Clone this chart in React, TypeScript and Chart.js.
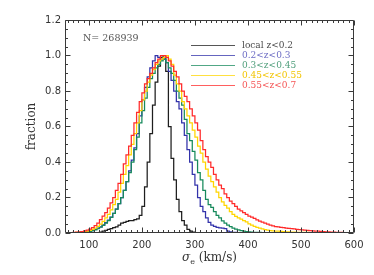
import React, { useEffect, useRef } from "react";
import { Chart, registerables } from "chart.js";

Chart.register(...registerables);

// bin centres (km/s), 5 km/s bins
const binCenters = [
  62.5, 67.5, 72.5, 77.5, 82.5, 87.5, 92.5, 97.5, 102.5, 107.5,
  112.5, 117.5, 122.5, 127.5, 132.5, 137.5, 142.5, 147.5, 152.5, 157.5,
  162.5, 167.5, 172.5, 177.5, 182.5, 187.5, 192.5, 197.5, 202.5, 207.5,
  212.5, 217.5, 222.5, 227.5, 232.5, 237.5, 242.5, 247.5, 252.5, 257.5,
  262.5, 267.5, 272.5, 277.5, 282.5, 287.5, 292.5, 297.5, 302.5, 307.5,
  312.5, 317.5, 322.5, 327.5, 332.5, 337.5, 342.5, 347.5, 352.5, 357.5,
  362.5, 367.5, 372.5, 377.5, 382.5, 387.5, 392.5, 397.5, 402.5, 407.5,
  412.5, 417.5, 422.5, 427.5, 432.5, 437.5, 442.5, 447.5, 452.5, 457.5,
  462.5, 467.5, 472.5, 477.5, 482.5, 487.5, 492.5, 497.5, 502.5, 507.5,
  512.5, 517.5, 522.5, 527.5, 532.5, 537.5, 542.5, 547.5, 552.5, 557.5,
  562.5, 567.5, 572.5, 577.5, 582.5, 587.5, 592.5, 597.5,
];

const localZ = [
  0, 0, 0, 0, 0, 0, 0, 0, 0, 0,
  0, 0.002, 0.005, 0.01, 0.015, 0.02, 0.025, 0.03, 0.035, 0.045,
  0.055, 0.06, 0.065, 0.07, 0.07, 0.075, 0.08, 0.1, 0.15, 0.26,
  0.4, 0.56, 0.72, 0.85, 0.94, 0.99, 1.0, 0.91, 0.6, 0.42,
  0.3, 0.19, 0.12, 0.07, 0.045, 0.02, 0.01, 0.005, 0.002, 0,
  0, 0, 0, 0, 0, 0, 0, 0, 0, 0,
  0, 0, 0, 0, 0, 0, 0, 0, 0, 0,
  0, 0, 0, 0, 0, 0, 0, 0, 0, 0,
  0, 0, 0, 0, 0, 0, 0, 0, 0, 0,
  0, 0, 0, 0, 0, 0, 0, 0, 0, 0,
  0, 0, 0, 0, 0, 0, 0, 0,
];

const z02to03 = [
  0, 0, 0, 0.001, 0.002, 0.003, 0.005, 0.007, 0.01, 0.014,
  0.02, 0.027, 0.035, 0.046, 0.058, 0.073, 0.09, 0.11, 0.135, 0.165,
  0.2, 0.24, 0.29, 0.35, 0.41, 0.48, 0.56, 0.66, 0.75, 0.82,
  0.88, 0.93, 0.97, 1.0, 0.99, 0.98, 0.98, 0.96, 0.91, 0.86,
  0.8, 0.74, 0.7, 0.62, 0.55, 0.47, 0.4, 0.33, 0.27, 0.2,
  0.15, 0.12, 0.085, 0.06, 0.045, 0.037, 0.032, 0.029, 0.027, 0.025,
  0.01, 0.006, 0.004, 0.003, 0.002, 0.002, 0.001, 0.001, 0.001, 0.001,
  0.001, 0.001, 0.001, 0, 0, 0, 0, 0, 0, 0,
  0, 0, 0, 0, 0, 0, 0, 0, 0, 0,
  0, 0, 0, 0, 0, 0, 0, 0, 0, 0,
  0, 0, 0, 0, 0, 0, 0, 0,
];

const z03to045 = [
  0, 0, 0, 0, 0.001, 0.002, 0.004, 0.006, 0.009, 0.013,
  0.018, 0.025, 0.033, 0.043, 0.055, 0.07, 0.088, 0.11, 0.135, 0.165,
  0.2, 0.24, 0.29, 0.34, 0.4, 0.47, 0.54, 0.62, 0.69, 0.76,
  0.82, 0.87, 0.9, 0.93, 0.95, 0.97, 0.98, 0.96, 0.93, 0.9,
  0.86, 0.8, 0.76, 0.72, 0.64, 0.56, 0.52, 0.46, 0.41, 0.34,
  0.3, 0.24, 0.19, 0.16, 0.145, 0.12, 0.1, 0.085, 0.068, 0.055,
  0.045, 0.036, 0.028, 0.022, 0.017, 0.013, 0.01, 0.008, 0.006, 0.005,
  0.004, 0.003, 0.003, 0.002, 0.002, 0.001, 0.001, 0.001, 0.001, 0.001,
  0, 0, 0, 0, 0, 0, 0, 0, 0, 0,
  0, 0, 0, 0, 0, 0, 0, 0, 0, 0,
  0, 0, 0, 0, 0, 0, 0, 0,
];

const z045to055 = [
  0, 0, 0.001, 0.003, 0.004, 0.006, 0.008, 0.011, 0.015, 0.02,
  0.028, 0.038, 0.05, 0.065, 0.085, 0.105, 0.13, 0.16, 0.19, 0.23,
  0.28, 0.33, 0.38, 0.44, 0.5, 0.56, 0.62, 0.69, 0.75, 0.8,
  0.85, 0.89, 0.92, 0.95, 0.97, 0.98, 0.99, 1.0, 0.98, 0.95,
  0.89, 0.84, 0.8, 0.74, 0.7, 0.66, 0.62, 0.58, 0.54, 0.49,
  0.45, 0.4, 0.36, 0.32, 0.29, 0.26, 0.23, 0.2, 0.175, 0.155,
  0.14, 0.12, 0.105, 0.093, 0.085, 0.078, 0.07, 0.062, 0.052, 0.045,
  0.038, 0.032, 0.027, 0.023, 0.019, 0.016, 0.014, 0.012, 0.011, 0.01,
  0.009, 0.008, 0.007, 0.006, 0.005, 0.005, 0.004, 0.004, 0.003, 0.003,
  0.003, 0.002, 0.002, 0.002, 0.002, 0.001, 0.001, 0.001, 0.001, 0,
  0, 0, 0, 0, 0, 0, 0, 0,
];

const z055to07 = [
  0, 0.001, 0.003, 0.005, 0.006, 0.008, 0.012, 0.016, 0.022, 0.03,
  0.042, 0.055, 0.075, 0.095, 0.115, 0.14, 0.17, 0.2, 0.24, 0.28,
  0.33, 0.39, 0.44, 0.49, 0.55, 0.62, 0.68, 0.74, 0.79, 0.84,
  0.87, 0.9, 0.93, 0.96, 0.98, 1.0, 1.0, 0.99, 0.97, 0.94,
  0.91, 0.88, 0.84, 0.8, 0.77, 0.74, 0.7, 0.66, 0.62, 0.58,
  0.52, 0.47, 0.43, 0.4, 0.37, 0.33, 0.3, 0.27, 0.25, 0.22,
  0.2, 0.18, 0.165, 0.15, 0.135, 0.125, 0.115, 0.105, 0.095, 0.09,
  0.082, 0.074, 0.067, 0.061, 0.055, 0.05, 0.045, 0.04, 0.036, 0.034,
  0.032, 0.03, 0.028, 0.026, 0.024, 0.023, 0.021, 0.019, 0.018, 0.016,
  0.015, 0.013, 0.012, 0.011, 0.01, 0.009, 0.008, 0.007, 0.006, 0.005,
  0.005, 0.004, 0.003, 0.003, 0.002, 0.002, 0.001, 0.001,
];

const seriesLabels = ["local z<0.2", "0.2<z<0.3", "0.3<z<0.45", "0.45<z<0.55", "0.55<z<0.7"];
const seriesColors = ["#1e1e1e", "#3232aa", "#178a5c", "#ffd500", "#ff2a2a"];
const legendTextColors = ["#4a4a4a", "#6c6cc4", "#4f9e7b", "#f2c400", "#f55454"];
const xTickValues = [100, 200, 300, 400, 500, 600];
const yTickValues = [0, 0.2, 0.4, 0.6, 0.8, 1.0, 1.2];
const sampleNote = "N= 268939";

const W = 374;
const H = 275;
const PLOT_LEFT = 65;
const PLOT_RIGHT = 354;
const PLOT_TOP = 20;
const PLOT_BOTTOM = 233;

const SERIF = '"DejaVu Serif", serif';
const SANS = '"DejaVu Sans", sans-serif';

const decorPlugin = {
  id: "decor",
  afterDraw(chart: any) {
    const ctx = chart.ctx as CanvasRenderingContext2D;
    const a = chart.chartArea;
    const xs = chart.scales.x;
    const ys = chart.scales.y;
    ctx.save();
    // frame
    ctx.strokeStyle = "#3a3a3a";
    ctx.lineWidth = 1;
    const L = Math.round(a.left) + 0.5;
    const R = Math.round(a.right) - 0.5;
    const T = Math.round(a.top) + 0.5;
    const B = Math.round(a.bottom) - 0.5;
    ctx.beginPath();
    ctx.rect(L, T, R - L, B - T);
    ctx.stroke();

    ctx.beginPath();
    // x ticks (major + minor every 10)
    for (let v = 60; v <= 600; v += 10) {
      const major = v % 100 === 0;
      const len = major ? 5 : 2.5;
      const px = Math.round(xs.getPixelForValue(v)) + 0.5;
      ctx.moveTo(px, B);
      ctx.lineTo(px, B - len);
      ctx.moveTo(px, T);
      ctx.lineTo(px, T + len);
    }
    // y ticks (major 0.2, minor 0.05)
    for (let k = 0; k <= 24; k++) {
      const v = k * 0.05;
      const major = k % 4 === 0;
      const len = major ? 5 : 2.5;
      const py = Math.round(ys.getPixelForValue(v)) + 0.5;
      ctx.moveTo(L, py);
      ctx.lineTo(L + len, py);
      ctx.moveTo(R, py);
      ctx.lineTo(R - len, py);
    }
    ctx.stroke();

    // legend
    ctx.textBaseline = "middle";
    ctx.textAlign = "left";
    ctx.font = `9px ${SERIF}`;
    seriesLabels.forEach((lab, i) => {
      const y = 45 + i * 10 + 0.5;
      ctx.strokeStyle = seriesColors[i];
      ctx.globalAlpha = 0.75;
      ctx.beginPath();
      ctx.moveTo(191, y);
      ctx.lineTo(235, y);
      ctx.stroke();
      ctx.globalAlpha = 1;
      ctx.fillStyle = legendTextColors[i];
      ctx.fillText(lab, 242, y);
    });

    // N note
    ctx.fillStyle = "#555";
    ctx.font = `9.5px ${SERIF}`;
    ctx.fillText(sampleNote, 83, 38.5);

    // y label
    ctx.save();
    ctx.translate(32, (a.top + a.bottom) / 2);
    ctx.rotate(-Math.PI / 2);
    ctx.textAlign = "center";
    ctx.fillStyle = "#333";
    ctx.font = `12px ${SERIF}`;
    ctx.fillText("fraction", 0, 0);
    ctx.restore();

    // x label: sigma_e (km/s)
    const cx = (a.left + a.right) / 2;
    const cy = 258;
    ctx.fillStyle = "#333";
    const fSig = `italic 12px ${SERIF}`;
    const fSub = `8px ${SERIF}`;
    const fMain = `12px ${SERIF}`;
    ctx.font = fSig;
    const wSig = ctx.measureText("σ").width;
    ctx.font = fSub;
    const wSub = ctx.measureText("e").width;
    ctx.font = fMain;
    const rest = " (km/s)";
    const wRest = ctx.measureText(rest).width;
    let x0 = cx - (wSig + wSub + wRest) / 2;
    ctx.textAlign = "left";
    ctx.font = fSig;
    ctx.fillText("σ", x0, cy);
    x0 += wSig;
    ctx.font = fSub;
    ctx.fillText("e", x0, cy + 3.5);
    x0 += wSub;
    ctx.font = fMain;
    ctx.fillText(rest, x0, cy);

    ctx.restore();
  },
};

export default function App() {
  const ref = useRef<HTMLCanvasElement>(null);

  useEffect(() => {
    if (!ref.current) return;
    const all = [localZ, z02to03, z03to045, z045to055, z055to07];
    const datasets = all.map((vals, i) => ({
      label: seriesLabels[i],
      data: binCenters.map((x, j) => ({ x, y: vals[j] })),
      borderColor: seriesColors[i],
      backgroundColor: seriesColors[i],
      borderWidth: 1.25,
      pointRadius: 0,
      fill: false,
      stepped: "middle" as const,
      order: 4 - i,
    }));

    const chart = new Chart(ref.current, {
      type: "line",
      data: { datasets },
      options: {
        animation: false,
        responsive: false,
        maintainAspectRatio: false,
        devicePixelRatio: 1,
        layout: { padding: { left: 0, right: W - PLOT_RIGHT, top: PLOT_TOP, bottom: 0 } },
        plugins: { legend: { display: false }, tooltip: { enabled: false }, title: { display: false } },
        scales: {
          x: {
            type: "linear",
            min: 55,
            max: 600,
            grid: { display: false, drawTicks: false },
            border: { display: false },
            afterBuildTicks: (s: any) => {
              s.ticks = xTickValues.map((v) => ({ value: v }));
            },
            afterFit: (s: any) => {
              s.height = H - PLOT_BOTTOM;
            },
            ticks: {
              color: "#333",
              font: { family: "DejaVu Sans", size: 10 },
              padding: 6,
              maxRotation: 0,
              autoSkip: false,
              callback: (v: any) => String(v),
            },
          },
          y: {
            type: "linear",
            min: 0,
            max: 1.2,
            grid: { display: false, drawTicks: false },
            border: { display: false },
            afterBuildTicks: (s: any) => {
              s.ticks = yTickValues.map((v) => ({ value: v }));
            },
            afterFit: (s: any) => {
              s.width = PLOT_LEFT;
            },
            ticks: {
              color: "#333",
              font: { family: "DejaVu Sans", size: 10 },
              padding: 4,
              callback: (v: any) => Number(v).toFixed(1),
            },
          },
        },
      },
      plugins: [decorPlugin],
    });
    return () => chart.destroy();
  }, []);

  return (
    <div style={{ position: "absolute", left: 0, top: 0, width: W, height: H, background: "#fff" }}>
      <canvas ref={ref} width={W} height={H} style={{ display: "block", width: W, height: H }} />
    </div>
  );
}
